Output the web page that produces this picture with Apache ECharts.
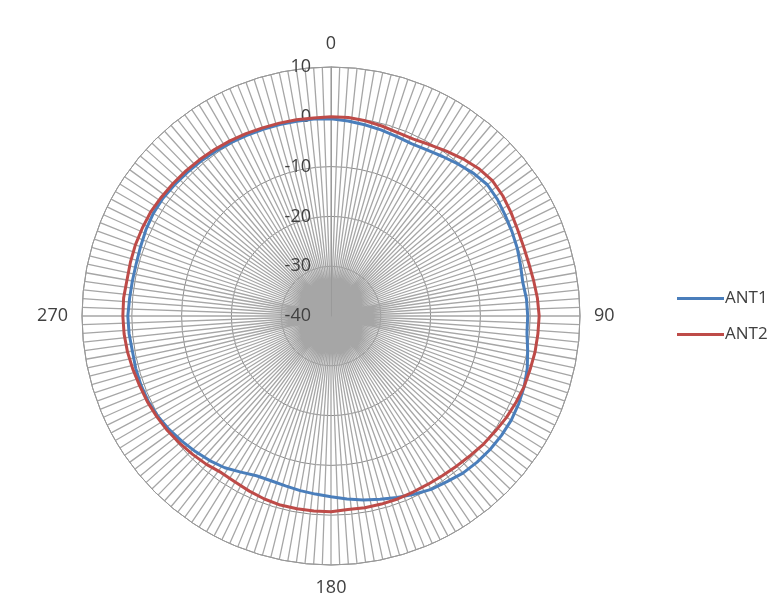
<!DOCTYPE html>
<html>
<head>
<meta charset="utf-8">
<script src="https://cdn.jsdelivr.net/npm/echarts@6/dist/echarts.min.js"></script>
<style>
html,body{margin:0;padding:0;background:#fff;}
#c{width:782px;height:602px;}
</style>
</head>
<body>
<div id="c"></div>
<script>
// Angles (degrees) at which values were read, closing back at 360
const angles = [0,5,10,15,20,25,30,35,40,45,50,55,60,65,70,75,80,85,90,95,100,105,110,115,120,125,130,135,140,145,150,155,160,165,170,175,180,185,190,195,200,205,210,215,220,225,230,235,240,245,250,255,260,265,270,275,280,285,290,295,300,305,310,315,320,325,330,335,340,345,350,355,360];
const ant1 = [-0.4,-0.7,-1.0,-1.3,-1.6,-1.8,-1.5,-0.9,-0.2,0.5,1.0,0.8,0.4,0.1,-0.2,-0.6,-0.9,-0.6,-0.5,-0.5,0.1,0.8,1.3,1.6,1.8,1.8,1.7,1.5,1.2,0.6,0.2,-0.5,-1.2,-1.9,-2.5,-3.1,-3.7,-4.1,-4.4,-4.7,-4.8,-4.6,-3.8,-2.8,-2.1,-1.5,-0.9,-0.3,0.2,0.5,0.6,0.6,0.5,0.7,0.8,0.6,0.5,0.5,0.7,1.0,1.2,1.2,1.0,0.8,0.6,0.4,0.2,0.0,-0.1,-0.2,-0.3,-0.3,-0.4];
const ant2 = [0.0,0.0,-0.2,-0.5,-0.8,-0.8,-0.3,0.4,1.2,1.9,2.3,2.1,1.7,1.3,1.1,1.1,1.3,1.6,1.8,1.7,1.6,1.4,1.3,1.0,0.7,0.3,0.0,-0.4,-0.7,-0.9,-1.0,-1.0,-0.9,-0.9,-0.9,-1.0,-0.7,-0.7,-0.7,-0.7,-0.9,-1.2,-1.5,-1.6,-1.1,-0.7,-0.3,0.1,0.4,0.7,0.9,1.2,1.5,1.7,1.8,1.8,1.6,1.7,1.8,1.8,1.8,1.6,1.4,1.2,1.0,0.8,0.6,0.4,0.2,0.1,0.0,-0.1,0.0];
const angleLabels = [0, 90, 180, 270];
const radiusTicks = [-40, -30, -20, -10, 0, 10];
const seriesNames = ['ANT1', 'ANT2'];

const chart = echarts.init(document.getElementById('c'));
const FONT = 'Open Sans';
function pairs(vals){ return vals.map((v,i)=>[v, angles[i]]); }
chart.setOption({
  animation: false,
  backgroundColor: '#ffffff',
  textStyle: {fontFamily: FONT},
  polar: {center: [331, 316], radius: 249},
  angleAxis: {
    type: 'value', min: 0, max: 360, interval: 2,
    startAngle: 90, clockwise: true,
    axisLine: {show: true, lineStyle: {color: '#9a9a9a', width: 1}},
    axisTick: {show: false},
    splitLine: {show: true, lineStyle: {color: '#a6a6a6', width: 1.3}},
    axisLabel: {
      margin: 14, fontSize: 18, color: '#404040', fontFamily: FONT,
      formatter: v => (angleLabels.indexOf(v) >= 0 ? String(v) : '')
    }
  },
  radiusAxis: {
    type: 'value', min: radiusTicks[0], max: radiusTicks[radiusTicks.length-1], interval: 10,
    axisLine: {show: true, lineStyle: {color: '#9a9a9a'}},
    axisTick: {show: false},
    splitLine: {show: true, lineStyle: {color: '#8c8c8c', width: 1}},
    axisLabel: {margin: 20, fontSize: 18, color: '#404040', fontFamily: FONT}
  },
  legend: {
    orient: 'vertical', left: 672, top: 285, itemGap: 19,
    icon: 'rect', itemWidth: 47, itemHeight: 3,
    textStyle: {fontSize: 17, color: '#404040', fontFamily: FONT, padding: [0,0,0,-4]},
    data: seriesNames
  },
  series: [
    {name: seriesNames[0], type: 'line', coordinateSystem: 'polar', data: pairs(ant1),
     symbol: 'none', lineStyle: {color: '#4a7ebb', width: 3}, itemStyle: {color: '#4a7ebb'}},
    {name: seriesNames[1], type: 'line', coordinateSystem: 'polar', data: pairs(ant2),
     symbol: 'none', lineStyle: {color: '#be4b48', width: 3}, itemStyle: {color: '#be4b48'}}
  ]
});
</script>
</body>
</html>
